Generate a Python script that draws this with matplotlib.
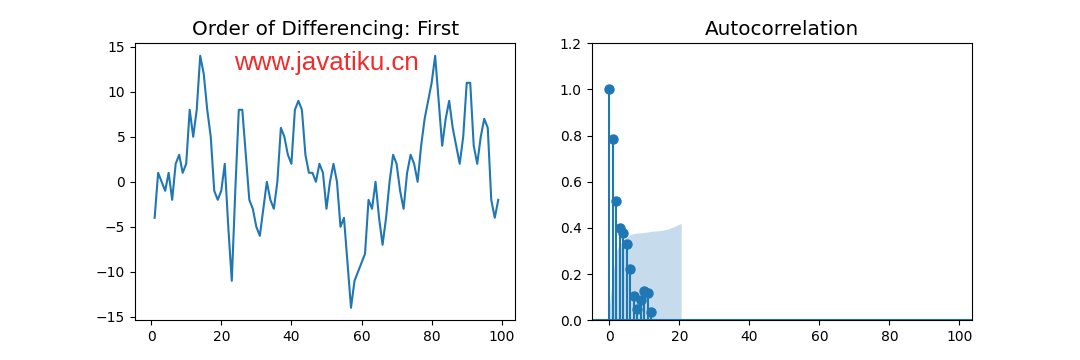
import numpy as np
import matplotlib
matplotlib.use("Agg")
import matplotlib.pyplot as plt

# first-order differenced series (t = 1..99)
t = list(range(1, 100))
diff_vals = [-4, 1, 0, -1, 1, -2, 2, 3, 1, 2,
             8, 5, 8, 14, 12, 8, 5, -1, -2, -1,
             2, -5, -11, -1, 8, 8, 3, -2, -3, -5,
             -6, -3, 0, -2, -3, 0, 6, 5, 3, 2,
             8, 9, 8, 3, 1, 1, 0, 2, 1, -3,
             0, 2, 0, -5, -4, -9, -14, -11, -10, -9,
             -8, -2, -3, 0, -4, -7, -4, 0, 3, 2,
             -1, -3, 1, 3, 2, 0, 4, 7, 9, 11,
             14, 9, 4, 7, 9, 6, 4, 2, 5, 11,
             11, 4, 2, 5, 7, 6, -2, -4, -2]

# autocorrelation of the differenced series, lags 0..20
lags = list(range(0, 21))
acf_vals = [1.0, 0.787, 0.518, 0.402, 0.38, 0.329, 0.224, 0.104, 0.049, 0.088,
            0.127, 0.117, 0.038, -0.03, -0.08, -0.12, -0.15, -0.17, -0.2, -0.22, -0.2]
# half width of the 95% confidence band
conf_vals = [0.0, 0.197, 0.30, 0.33, 0.35, 0.36, 0.372, 0.376, 0.378, 0.379,
             0.381, 0.383, 0.386, 0.387, 0.388, 0.39, 0.393, 0.397, 0.403, 0.41, 0.42]

fig, (ax1, ax2) = plt.subplots(1, 2, figsize=(10.8, 3.6), dpi=100)

ax1.plot(t, diff_vals, color="C0", linewidth=1.5)
ax1.set_title("Order of Differencing: First", fontsize=14.4)
ax1.set_xlim(-4.6, 103.9)
ax1.set_xticks([0, 20, 40, 60, 80, 100])

# acf plot, same look as statsmodels plot_acf
lag_arr = np.array(lags, dtype=float)
band_x = lag_arr.copy()
band_x[0] -= 0.5
band_x[-1] += 0.5
conf = np.array(conf_vals)
ax2.vlines(lag_arr, 0, acf_vals, color="C0", linewidth=1.5)
ax2.axhline(0, color="C0", linewidth=1.5)
ax2.fill_between(band_x, -conf, conf, color="C0", alpha=0.25, linewidth=0)
ax2.plot(lag_arr, acf_vals, linestyle="None", marker="o", markersize=6.5, color="C0")
ax2.set_title("Autocorrelation", fontsize=14.4)
ax2.set_xlim(-5.1, 103.6)
ax2.set_ylim(0, 1.2)
ax2.set_xticks([0, 20, 40, 60, 80, 100])

fig.text(326 / 1080, 1 - 63 / 360, "www.javatiku.cn", color="#f22a2a",
         fontsize=18.7, family="Liberation Sans", ha="center", va="center")

fig.savefig("out.png", dpi=100)
